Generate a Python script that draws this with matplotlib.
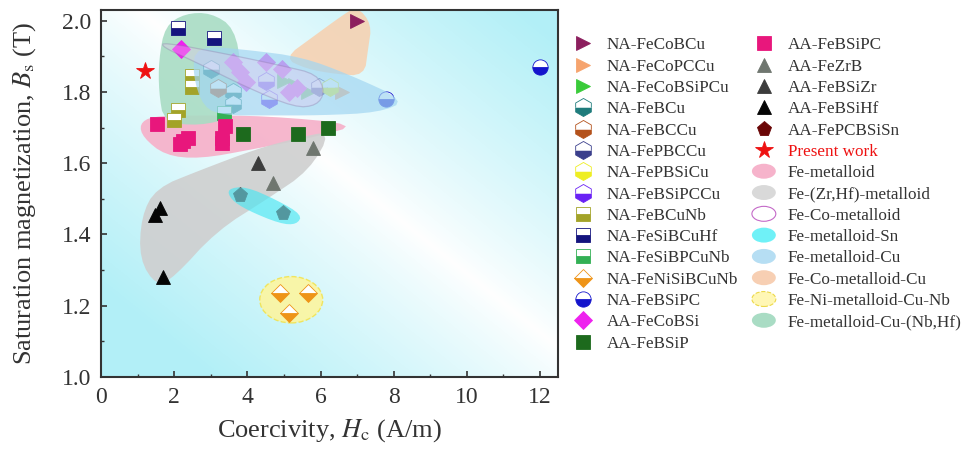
import numpy as np
import matplotlib
matplotlib.use("Agg")
import matplotlib.pyplot as plt
from matplotlib.patches import Polygon, Ellipse
from matplotlib.legend_handler import HandlerPatch
from matplotlib.ticker import MultipleLocator

plt.rcParams.update({
    "font.family": "Liberation Serif",
    "mathtext.fontset": "stix",
    "axes.linewidth": 1.5,
    "axes.edgecolor": "#333333",
})

# ---- data: coercivity Hc (A/m), saturation magnetization Bs (T) ----
hc_na_fecobcu = [7.0];  bs_na_fecobcu = [2.00]
hc_na_fecopccu = [6.6];  bs_na_fecopccu = [1.80]
hc_na_fecobsipcu = [5.0, 5.3, 5.65];  bs_na_fecobsipcu = [1.83, 1.82, 1.80]
hc_na_febcu = [3.0, 3.6, 3.6];  bs_na_febcu = [1.865, 1.80, 1.765]
hc_na_febccu = [3.2];  bs_na_febccu = [1.81]
hc_na_fepbccu = [5.95];  bs_na_fepbccu = [1.815]
hc_na_fepbsicu = [6.25];  bs_na_fepbsicu = [1.815]
hc_na_febsipccu = [4.5, 4.6];  bs_na_febsipccu = [1.83, 1.78]
hc_na_febcunb = [2.5, 2.5, 2.1, 2.0];  bs_na_febcunb = [1.845, 1.813, 1.75, 1.72]
hc_na_fesibcuhf = [2.1, 3.1];  bs_na_fesibcuhf = [1.98, 1.95]
hc_na_fesibpcunb = [3.35];  bs_na_fesibpcunb = [1.742]
hc_na_fenisibcunb = [4.88, 5.65, 5.15];  bs_na_fenisibcunb = [1.235, 1.235, 1.18]
hc_na_febsipc = [7.8, 12.0];  bs_na_febsipc = [1.78, 1.87]
hc_aa_fecobsi = [2.2, 3.6, 3.8, 3.95, 4.5, 4.95, 5.15, 5.35]
bs_aa_fecobsi = [1.92, 1.883, 1.855, 1.827, 1.883, 1.864, 1.80, 1.81]
hc_aa_febsip = [3.88, 5.38, 6.2];  bs_aa_febsip = [1.681, 1.681, 1.70]
hc_aa_febsipc = [1.52, 2.15, 2.25, 2.38, 3.4, 3.3, 3.3]
bs_aa_febsipc = [1.709, 1.653, 1.662, 1.672, 1.705, 1.658, 1.672]
hc_aa_fezrb = [5.8, 4.7];  bs_aa_fezrb = [1.644, 1.545]
hc_aa_febsizr = [4.3];  bs_aa_febsizr = [1.60]
hc_aa_febsihf = [1.6, 1.47, 1.7];  bs_aa_febsihf = [1.475, 1.456, 1.282]
hc_aa_fepcbsisn = [3.8, 4.97];  bs_aa_fepcbsisn = [1.512, 1.461]
hc_present = [1.2];  bs_present = [1.859]

# ---- shaded groups (outline vertices in data units) ----
reg_fe_metalloid = [(1.05, 1.71), (1.4, 1.732), (2.5, 1.734), (4.5, 1.733), (7.1, 1.709),
                    (5.8, 1.672), (4.2, 1.64), (2.7, 1.612), (1.75, 1.622), (1.15, 1.672)]
reg_zrhf = [(1.52, 1.255), (1.05, 1.33), (1.1, 1.45), (1.5, 1.53), (2.7, 1.58), (4.25, 1.64),
            (5.4, 1.672), (6.3, 1.69), (5.7, 1.58), (4.55, 1.5), (3.16, 1.41), (2.0, 1.28)]
reg_feco = [(1.68, 1.94), (3.5, 1.905), (5.0, 1.872), (5.9, 1.85), (6.12, 1.80), (5.9, 1.762),
            (5.3, 1.756), (4.0, 1.812), (2.5, 1.888), (1.7, 1.925)]
reg_sn = [(3.45, 1.528), (3.95, 1.535), (4.8, 1.497), (5.5, 1.455), (5.35, 1.428), (4.9, 1.43),
          (4.0, 1.468), (3.55, 1.498)]
reg_cu = [(2.6, 1.93), (4.0, 1.918), (5.5, 1.898), (6.8, 1.848), (8.35, 1.775), (7.6, 1.742),
          (6.0, 1.734), (4.5, 1.734), (3.4, 1.734), (2.8, 1.755), (2.5, 1.85)]
reg_feco_cu = [(5.0, 1.895), (5.8, 1.955), (6.6, 2.015), (7.0, 2.04), (7.4, 1.99), (7.3, 1.92),
               (7.2, 1.845), (6.4, 1.85), (5.6, 1.865)]
reg_feni = (5.2, 1.217, 1.72, 0.13)  # centre x, centre y, width, height
reg_nbhf = [(1.72, 1.715), (1.58, 1.80), (1.58, 1.89), (1.75, 1.985), (2.3, 2.02), (3.0, 2.022),
            (3.65, 1.98), (3.85, 1.86), (3.6, 1.728), (2.7, 1.705)]


def smooth(pts, n=2):
    # corner cutting so the hand-drawn outlines look rounded
    p = np.array(pts, dtype=float)
    for _ in range(n):
        q = np.roll(p, -1, axis=0)
        p = np.stack([0.75 * p + 0.25 * q, 0.25 * p + 0.75 * q], axis=1).reshape(-1, 2)
    return p


class HandlerEllipse(HandlerPatch):
    def create_artists(self, legend, orig, xdescent, ydescent, width, height, fontsize, trans):
        e = Ellipse((width / 2 - xdescent, height / 2 - ydescent), width * 1.0, height * 1.25)
        self.update_prop(e, orig, legend)
        e.set_transform(trans)
        return [e]


fig = plt.figure(figsize=(9.71, 4.5), dpi=100)
ax = fig.add_axes([0.104, 0.162, 0.471, 0.816])
ax.set_xlim(0, 12.5)
ax.set_ylim(1.0, 2.03)

# background wash: cyan at bottom-left / top-right, white along the other diagonal
a, b = np.meshgrid(np.linspace(0, 1, 300), np.linspace(0, 1, 300))
t = np.clip(np.abs(a + b - 1.08) * 1.2, 0, 1) ** 0.85
cyan = np.array([0.70, 0.94, 0.97])
bg = 1 - t[..., None] * (1 - cyan)
ax.imshow(bg, extent=[0, 12.5, 1.0, 2.03], origin="lower", aspect="auto", zorder=0)

# regions under markers
p_metal = Polygon(smooth(reg_fe_metalloid), closed=True, fc="#f6b3cb", ec="none", alpha=0.95, zorder=1)
p_zrhf = Polygon(smooth(reg_zrhf), closed=True, fc="#cfcfcf", ec="none", alpha=0.9, zorder=1)
p_nbhf = Polygon(smooth(reg_nbhf), closed=True, fc="#a9dcc4", ec="none", alpha=0.9, zorder=1)
p_cocu = Polygon(smooth(reg_feco_cu), closed=True, fc="#f6d2b2", ec="none", alpha=0.9, zorder=1)
e_feni = Ellipse(reg_feni[:2], reg_feni[2], reg_feni[3], fc="#fff59a", ec="#f2e24a",
                 ls="--", lw=1.0, alpha=0.85, zorder=1)
for p in (p_metal, p_zrhf, p_nbhf, p_cocu, e_feni):
    ax.add_patch(p)

series = [
    ("NA-FeCoBCu", hc_na_fecobcu, bs_na_fecobcu, ">", "#8c1f5e", "full"),
    ("NA-FeCoPCCu", hc_na_fecopccu, bs_na_fecopccu, ">", "#f6a46e", "full"),
    ("NA-FeCoBSiPCu", hc_na_fecobsipcu, bs_na_fecobsipcu, ">", "#3acb3a", "full"),
    ("NA-FeBCu", hc_na_febcu, bs_na_febcu, "h", "#1f7c7c", "bottom"),
    ("NA-FeBCCu", hc_na_febccu, bs_na_febccu, "h", "#b4521c", "bottom"),
    ("NA-FePBCCu", hc_na_fepbccu, bs_na_fepbccu, "h", "#3b3f8c", "bottom"),
    ("NA-FePBSiCu", hc_na_fepbsicu, bs_na_fepbsicu, "h", "#eeee22", "bottom"),
    ("NA-FeBSiPCCu", hc_na_febsipccu, bs_na_febsipccu, "h", "#6a22f5", "bottom"),
    ("NA-FeBCuNb", hc_na_febcunb, bs_na_febcunb, "s", "#a3a328", "bottom"),
    ("NA-FeSiBCuHf", hc_na_fesibcuhf, bs_na_fesibcuhf, "s", "#14147e", "bottom"),
    ("NA-FeSiBPCuNb", hc_na_fesibpcunb, bs_na_fesibpcunb, "s", "#33b055", "bottom"),
    ("NA-FeNiSiBCuNb", hc_na_fenisibcunb, bs_na_fenisibcunb, "D", "#ee9418", "bottom"),
    ("NA-FeBSiPC", hc_na_febsipc, bs_na_febsipc, "o", "#1414cc", "bottom"),
    ("AA-FeCoBSi", hc_aa_fecobsi, bs_aa_fecobsi, "D", "#ee22ee", "full"),
    ("AA-FeBSiP", hc_aa_febsip, bs_aa_febsip, "s", "#1d6a1d", "full"),
    ("AA-FeBSiPC", hc_aa_febsipc, bs_aa_febsipc, "s", "#e8177c", "full"),
    ("AA-FeZrB", hc_aa_fezrb, bs_aa_fezrb, "^", "#6f766f", "full"),
    ("AA-FeBSiZr", hc_aa_febsizr, bs_aa_febsizr, "^", "#3c3c3c", "full"),
    ("AA-FeBSiHf", hc_aa_febsihf, bs_aa_febsihf, "^", "#050505", "full"),
    ("AA-FePCBSiSn", hc_aa_fepcbsisn, bs_aa_fepcbsisn, "p", "#6a0606", "full"),
    ("Present work", hc_present, bs_present, "*", "#ee1111", "full"),
]
sizes = {"*": 13, "h": 13, "o": 11, "D": 9, "p": 11}

handles = []
for label, xs, ys, mk, col, fs in series:
    h, = ax.plot(xs, ys, ls="none", marker=mk, ms=sizes.get(mk, 10), color=col, mec=col, mew=0.6,
                 fillstyle=fs, markerfacecoloralt="white", label=label, zorder=2)
    handles.append(h)

# translucent regions drawn over the markers
p_cu = Polygon(smooth(reg_cu), closed=True, fc="#a2d6f2", ec="none", alpha=0.7, zorder=3)
p_sn = Polygon(smooth(reg_sn), closed=True, fc="#48e6f2", ec="none", alpha=0.65, zorder=3)
p_feco = Polygon(smooth(reg_feco), closed=True, fc="#e9c8f0", ec="#8a78a8", lw=0.9, alpha=0.35, zorder=3)
for p in (p_cu, p_sn, p_feco):
    ax.add_patch(p)

reg_handles = [
    Polygon([[0, 0]], fc="#f6b3cb", ec="none", label="Fe-metalloid"),
    Polygon([[0, 0]], fc="#d9d9d9", ec="none", label="Fe-(Zr,Hf)-metalloid"),
    Polygon([[0, 0]], fc="white", ec="#c46ac8", lw=0.8, label="Fe-Co-metalloid"),
    Polygon([[0, 0]], fc="#6ff1f7", ec="none", label="Fe-metalloid-Sn"),
    Polygon([[0, 0]], fc="#b6def3", ec="none", label="Fe-metalloid-Cu"),
    Polygon([[0, 0]], fc="#f7cfb3", ec="none", label="Fe-Co-metalloid-Cu"),
    Polygon([[0, 0]], fc="#fff7b5", ec="#ecd94a", ls="--", lw=0.8, label="Fe-Ni-metalloid-Cu-Nb"),
    Polygon([[0, 0]], fc="#a9dcc4", ec="none", label="Fe-metalloid-Cu-(Nb,Hf)"),
]

ax.tick_params(which="both", direction="in", top=False, right=False, labelsize=17,
               colors="#333333")
ax.tick_params(which="major", length=4, width=1.2, pad=7)
ax.tick_params(which="minor", length=2.5, width=1.0)
ax.xaxis.set_major_locator(MultipleLocator(2))
ax.xaxis.set_minor_locator(MultipleLocator(1))
ax.yaxis.set_major_locator(MultipleLocator(0.2))
ax.yaxis.set_minor_locator(MultipleLocator(0.1))
ax.set_xlabel("Coercivity, $\\mathit{H}_\\mathrm{c}$ (A/m)", fontsize=19, color="#333333", labelpad=7)
ax.set_ylabel("Saturation magnetization, $\\mathit{B}_\\mathrm{s}$ (T)", fontsize=19,
              color="#333333", labelpad=17)

leg = fig.legend(handles=handles + reg_handles, ncol=2, loc="upper left",
                 bbox_to_anchor=(0.581, 0.932), frameon=False, fontsize=12.3,
                 handlelength=1.4, handletextpad=0.7, labelspacing=0.31, columnspacing=0.8,
                 handler_map={Polygon: HandlerEllipse()}, borderaxespad=0)
for txt in leg.get_texts():
    txt.set_color("#ee1111" if txt.get_text() == "Present work" else "#333333")

fig.savefig("out.png", dpi=100)
